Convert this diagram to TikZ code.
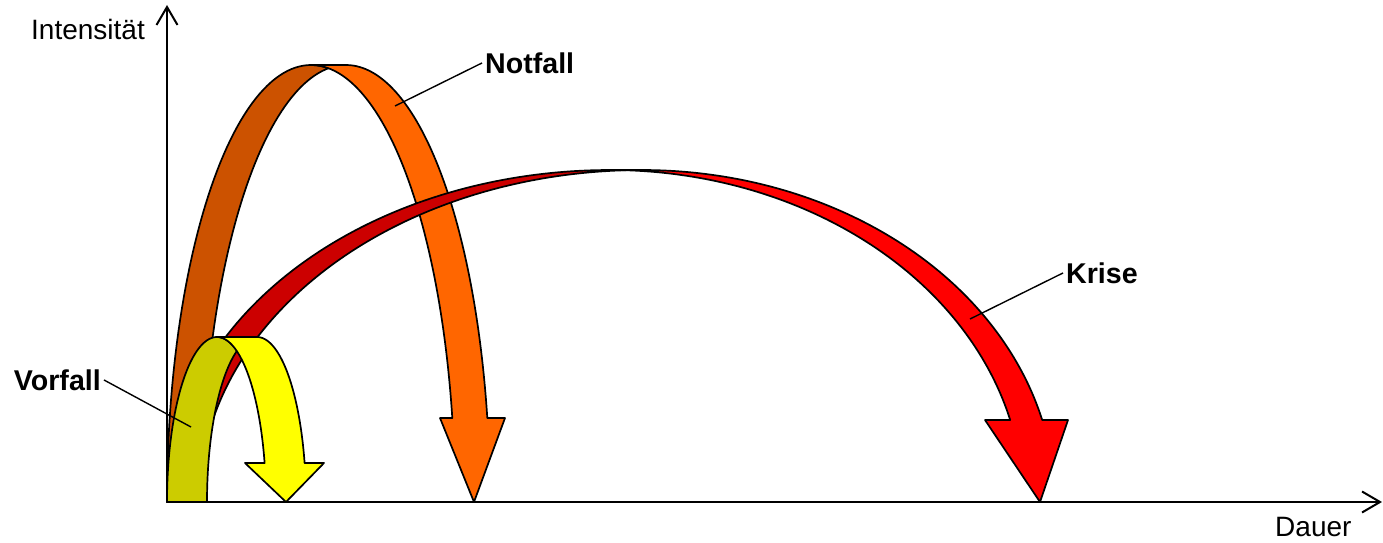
\documentclass[tikz,border=0pt]{standalone}
\usepackage{fontspec}
\setmainfont{Liberation Sans}
\usetikzlibrary{arrows.meta}
\definecolor{orfront}{HTML}{FF6600}
\definecolor{orback}{HTML}{CC5200}
\definecolor{redfront}{HTML}{FF0000}
\definecolor{redback}{HTML}{CC0000}
\definecolor{yelfront}{HTML}{FFFF00}
\definecolor{yelback}{HTML}{CCCC00}
\begin{document}
\begin{tikzpicture}[x=1pt,y=-1pt,
  shapeline/.style={draw=black,line width=1.7pt,line join=round},
  axis/.style={line width=2pt},
  leader/.style={line width=1.4pt},
  lbl/.style={inner xsep=3pt,inner ysep=0pt,font=\fontsize{28.6}{33}\selectfont\bfseries},
  axlbl/.style={inner xsep=3pt,inner ysep=0pt,font=\fontsize{28}{33}\selectfont}]
\useasboundingbox (0,0) rectangle (1383,543);
% axes
\coordinate (O) at (167,502);
\coordinate (Ytop) at (167,5);
\coordinate (Xend) at (1382,502);
\draw[axis,-{Straight Barb[length=18pt,width=21pt]}] (O) -- (Ytop);
\draw[axis,-{Straight Barb[length=18pt,width=21pt]}] (O) -- (Xend);
\node[axlbl,anchor=base west] (ylab) at (28,39.5) {Intensität};
\node[axlbl,anchor=base west] (xlab) at (1272,536) {Dauer};
% Notfall (orange)
\filldraw[shapeline,fill=orback] (167,502)
  -- plot[domain=180:83,samples=60] ({311+144*cos(\x)},{502-437*sin(\x)})
  -- plot[domain=97:180,samples=60] ({346+144*cos(\x)},{502-437*sin(\x)}) -- cycle;
\filldraw[shapeline,fill=orfront] (311,65) -- (346,65)
  -- plot[domain=90:11.08,samples=60] ({346+144*cos(\x)},{502-437*sin(\x)})
  -- (505,418) -- (474,502) -- (440,418)
  -- plot[domain=11.08:90,samples=60] ({311+144*cos(\x)},{502-437*sin(\x)}) -- cycle;
% Krise (red)
\filldraw[shapeline,fill=redback] (167,502)
  -- plot[domain=180:87.93,samples=80] ({610+443*cos(\x)},{502-332*sin(\x)})
  -- plot[domain=92.07:180,samples=80] ({642+443*cos(\x)},{502-332*sin(\x)}) -- cycle;
\filldraw[shapeline,fill=redfront] (610,170) -- (642,170)
  -- plot[domain=90:14.3,samples=80] ({642+413*cos(\x)},{502-332*sin(\x)})
  -- (1068,420) -- (1040,502) -- (985,420)
  -- plot[domain=14.3:90,samples=80] ({610+413*cos(\x)},{502-332*sin(\x)}) -- cycle;
% Vorfall (yellow)
\filldraw[shapeline,fill=yelback] (167,502)
  -- plot[domain=180:66.4,samples=50] ({217+50*cos(\x)},{502-165*sin(\x)})
  -- plot[domain=113.6:180,samples=50] ({257+50*cos(\x)},{502-165*sin(\x)}) -- cycle;
\filldraw[shapeline,fill=yelfront] (217,337) -- (257,337)
  -- plot[domain=90:13.67,samples=50] ({257+49*cos(\x)},{502-165*sin(\x)})
  -- (324,463) -- (286,502) -- (245,463)
  -- plot[domain=13.67:90,samples=50] ({217+49*cos(\x)},{502-165*sin(\x)}) -- cycle;
% labels
\node[lbl,anchor=base west] (nf) at (482,73.2) {Notfall};
\node[lbl,anchor=base west] (kr) at (1063,283.2) {Krise};
\node[lbl,anchor=base east] (vf) at (104,390.2) {Vorfall};
\coordinate (nfp) at (395,106);
\coordinate (krp) at (970,319);
\coordinate (vfp) at (191,427);
\draw[leader] (nfp) -- (nf.west);
\draw[leader] (krp) -- (kr.west);
\draw[leader] (vf.east) -- (vfp);
\end{tikzpicture}
\end{document}
